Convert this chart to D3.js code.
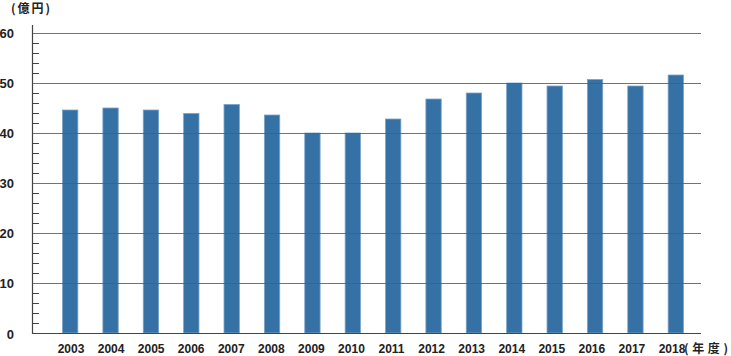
<!DOCTYPE html>
<html><head><meta charset="utf-8">
<script src="https://cdn.jsdelivr.net/npm/d3@7"></script>
<style>body{margin:0;background:#fff}svg{display:block}</style>
</head><body>
<svg id="c" width="731" height="356"></svg>
<script>
const years = ["2003","2004","2005","2006","2007","2008","2009","2010","2011","2012","2013","2014","2015","2016","2017","2018"];
const values = [44.6,45.0,44.6,43.9,45.7,43.6,40.0,40.0,42.8,46.8,48.0,50.0,49.4,50.7,49.4,51.6];
const yTicks = [0,10,20,30,40,50,60];
const minorTicks = d3.range(0,60,2);

const svg = d3.select("#c");
const x = d3.scaleBand().domain(years).range([50,696]).paddingInner(0.62).paddingOuter(0.31);
const xl = d3.scalePoint().domain(years).range([71,672]);
const y = d3.scaleLinear().domain([0,60]).range([333,33]);
const font = "'Liberation Sans', Arial, sans-serif";

// bars
svg.append("g").selectAll("rect").data(values).join("rect")
  .attr("x",(d,i)=>x(years[i])).attr("width",x.bandwidth())
  .attr("y",d=>y(d)).attr("height",d=>y(0)-y(d))
  .attr("fill","#3571a4").attr("stroke","#7aa3c8").attr("stroke-width",0.8);

// gridlines over bars
svg.append("g").selectAll("line").data(yTicks.filter(d=>d>0)).join("line")
  .attr("x1",32).attr("x2",701).attr("y1",d=>y(d)+0.5).attr("y2",d=>y(d)+0.5)
  .attr("stroke","#5a5a5a").attr("stroke-opacity",0.85).attr("stroke-width",1.2);

// minor ticks
svg.append("g").selectAll("line").data(minorTicks.filter(d=>d%10!==0)).join("line")
  .attr("x1",32).attr("x2",39).attr("y1",d=>Math.round(y(d))+0.5).attr("y2",d=>Math.round(y(d))+0.5)
  .attr("stroke","#444").attr("stroke-width",1);

// axis lines
svg.append("line").attr("x1",32.5).attr("x2",32.5).attr("y1",25).attr("y2",334).attr("stroke","#444").attr("stroke-width",1.2);
svg.append("line").attr("x1",32).attr("x2",701).attr("y1",333.5).attr("y2",333.5).attr("stroke","#444").attr("stroke-width",1.2);

// y labels
svg.append("g").selectAll("text").data(yTicks).join("text")
  .attr("x",14).attr("y",d=>y(d)+ (d===0?6:5)).attr("text-anchor","end")
  .attr("font-family",font).attr("font-weight","bold").attr("font-size",13).attr("fill","#222")
  .text(d=>d);

// x labels
svg.append("g").selectAll("text").data(years).join("text")
  .attr("x",d=>xl(d)).attr("y",353).attr("text-anchor","middle")
  .attr("font-family",font).attr("font-weight","bold").attr("font-size",12).attr("fill","#222")
  .text(d=>d);

svg.append("text").attr("x",684).attr("y",353)
  .attr("font-family","'Noto Sans CJK JP', sans-serif").attr("font-weight","bold").attr("font-size",12).attr("fill","#222")
  .attr("textLength",44).attr("lengthAdjust","spacing").text("(年度)");
svg.append("text").attr("x",11).attr("y",13)
  .attr("font-family","'Noto Sans CJK JP', sans-serif").attr("font-weight","bold").attr("font-size",12).attr("fill","#222")
  .attr("textLength",39).attr("lengthAdjust","spacing").text("(億円)");
</script>
</body></html>
